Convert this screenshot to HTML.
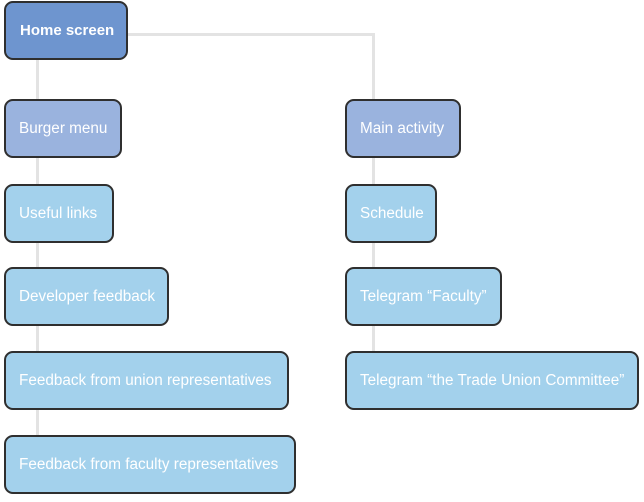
<!DOCTYPE html>
<html><head><style>
body{margin:0;width:644px;height:502px;background:#fff;position:relative;overflow:hidden;font-family:"Liberation Sans",sans-serif}
.b{position:absolute;box-sizing:border-box;border:2px solid #2f2f2f;border-radius:9px;color:#fff;font-size:15.3px;display:flex;align-items:center;padding-left:13px;padding-bottom:0;background:#a3d1ec}
.l{position:absolute;background:#e3e3e3}
</style></head><body>
<div class="l" style="left:36px;top:55px;width:3px;height:390px"></div>
<div class="l" style="left:125px;top:33px;width:250px;height:3px"></div>
<div class="l" style="left:372px;top:33px;width:3px;height:330px"></div>
<div class="b" style="left:4px;top:1px;width:124px;height:59px;background:#6e95cf;font-weight:bold;font-size:15px;padding-left:14px">Home screen</div>
<div class="b" style="left:4px;top:99px;width:118px;height:59px;background:#9ab3de">Burger menu</div>
<div class="b" style="left:4px;top:184px;width:110px;height:59px">Useful links</div>
<div class="b" style="left:4px;top:267px;width:165px;height:59px">Developer feedback</div>
<div class="b" style="left:4px;top:351px;width:285px;height:59px">Feedback from union representatives</div>
<div class="b" style="left:4px;top:435px;width:292px;height:59px">Feedback from faculty representatives</div>
<div class="b" style="left:345px;top:99px;width:116px;height:59px;background:#9ab3de">Main activity</div>
<div class="b" style="left:345px;top:184px;width:92px;height:59px">Schedule</div>
<div class="b" style="left:345px;top:267px;width:157px;height:59px">Telegram “Faculty”</div>
<div class="b" style="left:345px;top:351px;width:294px;height:59px">Telegram “the Trade Union Committee”</div>
</body></html>
